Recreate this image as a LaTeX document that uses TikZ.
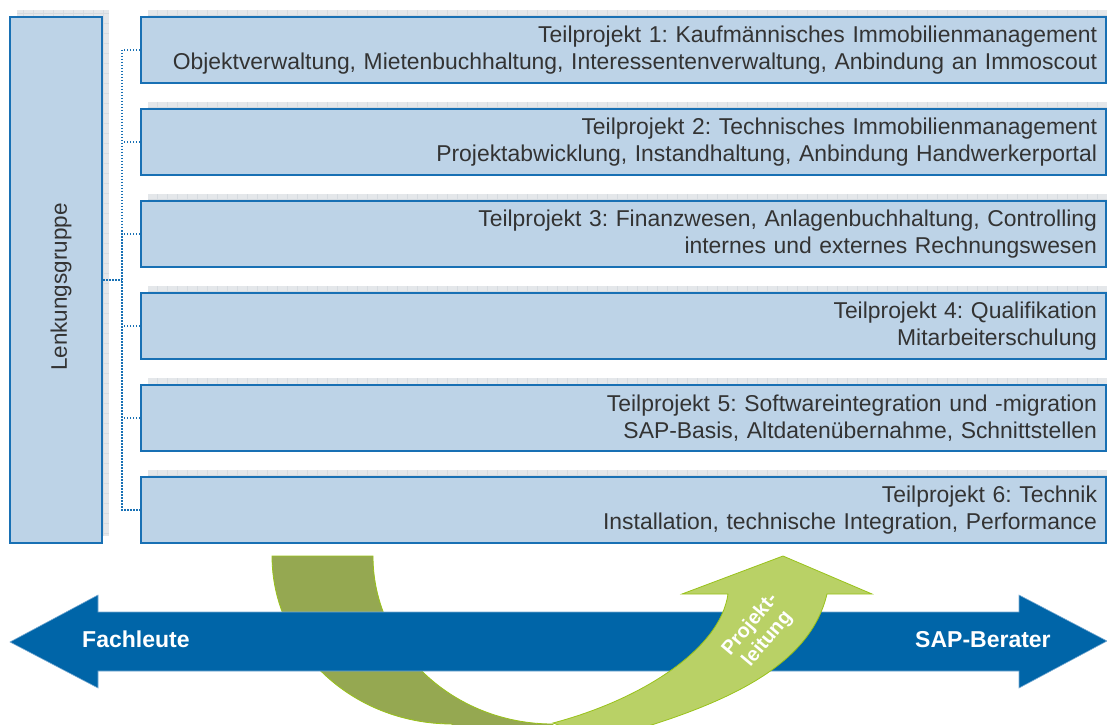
\documentclass[tikz,border=0pt]{standalone}
\usepackage{fontspec}
\setmainfont{Liberation Sans}
\usetikzlibrary{shadows}
\frenchspacing
\definecolor{boxfill}{RGB}{189,211,231}
\definecolor{boxline}{RGB}{24,112,180}
\definecolor{shadowgray}{RGB}{228,231,234}
\definecolor{gridgray}{RGB}{214,219,224}
\definecolor{textgray}{RGB}{51,51,51}
\definecolor{arrowblue}{RGB}{0,101,168}
\definecolor{arrowedge}{RGB}{120,170,210}
\definecolor{darkgreen}{RGB}{149,168,81}
\definecolor{lightgreen}{RGB}{185,209,102}
\definecolor{greenedge}{RGB}{153,194,26}

\begin{document}
\begin{tikzpicture}[x=1pt,y=1pt,
	shadowbox/.style={general shadow={shadow xshift=7pt,shadow yshift=7pt,fill=shadowgray,
		path picture={\draw[gridgray,line width=0.6pt,step=10pt] (path picture bounding box.south west) grid (path picture bounding box.north east);}}},
	lgbox/.style={shadowbox,draw=boxline,line width=2pt,fill=boxfill,inner sep=0pt,minimum width=92pt,minimum height=526pt},
	tpbox/.style={shadowbox,draw=boxline,line width=2pt,fill=boxfill,text=textgray,align=right,text width=947pt,inner xsep=9pt,inner ysep=0pt,minimum height=66pt,font=\fontsize{22.9}{27}\selectfont},
	conn/.style={draw=boxline,line width=1.5pt,dash pattern=on 1.5pt off 1.5pt},
	arrowlabel/.style={text=white,inner sep=0pt,font=\fontsize{23}{26}\selectfont\bfseries}]
	\useasboundingbox (0,0) rectangle (1107,724);
	\clip (0,0) rectangle (1107,724);
	\node[lgbox] (lg) at (56,444) {};
	\node[rotate=90,text=textgray,font=\fontsize{22.5}{27}\selectfont] (lglabel) at (61,437) {Lenkungsgruppe};
	\node[tpbox] (tp1) at (623.5,674) {Teilprojekt 1: Kaufmännisches Immobilienmanagement\\ Objektverwaltung, Mietenbuchhaltung, Interessentenverwaltung, Anbindung an Immoscout};
	\node[tpbox] (tp2) at (623.5,582) {Teilprojekt 2: Technisches Immobilienmanagement\\ Projektabwicklung, Instandhaltung, Anbindung Handwerkerportal};
	\node[tpbox] (tp3) at (623.5,490) {Teilprojekt 3: Finanzwesen, Anlagenbuchhaltung, Controlling\\ internes und externes Rechnungswesen};
	\node[tpbox] (tp4) at (623.5,398) {Teilprojekt 4: Qualifikation\\ Mitarbeiterschulung};
	\node[tpbox] (tp5) at (623.5,306) {Teilprojekt 5: Softwareintegration und -migration\\ SAP-Basis, Altdatenübernahme, Schnittstellen};
	\node[tpbox] (tp6) at (623.5,214) {Teilprojekt 6: Technik\\ Installation, technische Integration, Performance};
	\coordinate (bus) at (122,444);
	\draw[conn] (tp1.west) -- (tp1.west -| bus) -- (tp6.west -| bus) -- (tp6.west);
	\draw[conn] (tp2.west) -- (tp2.west -| bus);
	\draw[conn] (tp3.west) -- (tp3.west -| bus);
	\draw[conn] (tp4.west) -- (tp4.west -| bus);
	\draw[conn] (tp5.west) -- (tp5.west -| bus);
	\draw[conn] (lg.east) -- (bus);
	\filldraw[fill=darkgreen,draw=greenedge,line width=0.8pt] (272,168) arc[start angle=180,end angle=270,x radius=180,y radius=168] -- (452,-20) -- (553,-20) -- (553,0) arc[start angle=270,end angle=180,x radius=180,y radius=168] -- cycle;
	\filldraw[fill=arrowblue,draw=arrowedge,line width=0.6pt] (10,82) -- (98,129) -- (98,112) -- (1019,112) -- (1019,129) -- (1107,83) -- (1019,36) -- (1019,53) -- (98,53) -- (98,36) -- cycle;
	\node[arrowlabel,anchor=base west] (fach) at (82,77) {Fachleute};
	\node[arrowlabel,anchor=base west] (sap) at (915,77) {SAP-Berater};
	\filldraw[fill=lightgreen,draw=greenedge,line width=0.8pt] (553,1) .. controls (640,24) and (720,74) .. (728,130) -- (682,130) -- (783,168) -- (872,130) -- (827,130) .. controls (810,59) and (730,19) .. (600,-16) -- cycle;
	\node[rotate=50,align=center,text=white,inner sep=0pt,font=\fontsize{20}{22.5}\selectfont\bfseries] (pl) at (759,92) {Projekt-\\leitung};
\end{tikzpicture}
\end{document}
